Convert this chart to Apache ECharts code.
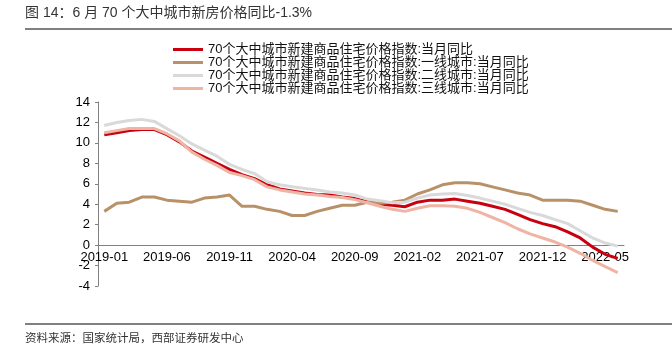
<!DOCTYPE html>
<html>
<head>
<meta charset="utf-8">
<script src="https://cdn.jsdelivr.net/npm/echarts@6/dist/echarts.min.js"></script>
<style>
  html, body { margin: 0; padding: 0; background: #fff; }
  #main { width: 672px; height: 352px; }
</style>
</head>
<body>
<div id="main"></div>
<script>
// 月份 2019-01 ~ 2022-06
var months = [];
for (var y = 2019; y <= 2022; y++) {
    for (var m = 1; m <= 12; m++) {
        if (y == 2022 && m > 6) break;
        months.push(y + '-' + (m < 10 ? '0' + m : m));
    }
}

var seriesNames = [
    '70个大中城市新建商品住宅价格指数:当月同比',
    '70个大中城市新建商品住宅价格指数:一线城市:当月同比',
    '70个大中城市新建商品住宅价格指数:二线城市:当月同比',
    '70个大中城市新建商品住宅价格指数:三线城市:当月同比'
];

var allCity = [10.8, 11.0, 11.2, 11.3, 11.3, 10.8, 10.1, 9.2, 8.6, 8.0, 7.4, 6.9,
               6.5, 5.9, 5.5, 5.3, 5.1, 4.95, 4.9, 4.7, 4.55, 4.25, 4.0, 3.9,
               3.75, 4.2, 4.4, 4.4, 4.5, 4.3, 4.1, 3.8, 3.5, 3.0, 2.5, 2.1,
               1.8, 1.3, 0.7, -0.2, -0.9, -1.3];
var tier1 = [3.3, 4.1, 4.2, 4.7, 4.7, 4.4, 4.3, 4.2, 4.6, 4.7, 4.9, 3.8,
             3.8, 3.5, 3.3, 2.9, 2.9, 3.3, 3.6, 3.9, 3.9, 4.2, 4.1, 4.2,
             4.4, 5.0, 5.4, 5.9, 6.1, 6.1, 6.0, 5.7, 5.4, 5.1, 4.9, 4.4,
             4.4, 4.4, 4.3, 3.9, 3.5, 3.3];
var tier2 = [11.7, 12.0, 12.2, 12.3, 12.1, 11.4, 10.7, 9.9, 9.3, 8.7, 7.9, 7.4,
             7.0, 6.2, 5.9, 5.7, 5.55, 5.4, 5.2, 5.1, 4.9, 4.5, 4.35, 4.15,
             4.2, 4.6, 4.9, 5.0, 5.05, 4.85, 4.6, 4.3, 4.0, 3.6, 3.2, 2.9,
             2.5, 2.1, 1.4, 0.7, 0.2, -0.1];
var tier3 = [11.0, 11.2, 11.4, 11.4, 11.4, 10.9, 10.2, 9.1, 8.4, 7.8, 7.1, 6.8,
             6.4, 5.7, 5.4, 5.2, 5.0, 4.9, 4.75, 4.65, 4.45, 4.15, 3.8, 3.5,
             3.3, 3.6, 3.85, 3.85, 3.8, 3.6, 3.2, 2.7, 2.2, 1.6, 1.1, 0.7,
             0.3, -0.2, -0.8, -1.5, -2.1, -2.7];

var colors = ['#C8000F', '#B99169', '#D9D9D9', '#F0B4A4'];
var seriesData = [allCity, tier1, tier2, tier3];

var chart = echarts.init(document.getElementById('main'));

var series = [];
for (var i = 0; i < seriesNames.length; i++) {
    series.push({
        name: seriesNames[i],
        type: 'line',
        data: seriesData[i],
        symbol: 'none',
        color: colors[i],
        lineStyle: { width: 3, color: colors[i] }
    });
}

var option = {
    animation: false,
    backgroundColor: '#fff',
    textStyle: { fontFamily: 'Liberation Sans, Noto Sans CJK SC, sans-serif' },
    graphic: [
        {
            type: 'text', left: 25, top: 6,
            style: { text: '图 14：6 月 70 个大中城市新房价格同比-1.3%', fontSize: 14, fill: '#333',
                     fontFamily: 'Liberation Sans, Noto Sans CJK SC, sans-serif' }
        },
        {
            type: 'line', shape: { x1: 25, y1: 29, x2: 672, y2: 29 },
            style: { stroke: '#808080', lineWidth: 2 }
        },
        {
            type: 'line', shape: { x1: 25, y1: 324, x2: 672, y2: 324 },
            style: { stroke: '#808080', lineWidth: 2 }
        },
        {
            type: 'text', left: 25, top: 332,
            style: { text: '资料来源：国家统计局，西部证券研发中心', fontSize: 11.5, fill: '#333',
                     fontFamily: 'Noto Sans CJK SC, sans-serif' }
        }
    ],
    legend: {
        orient: 'vertical',
        left: 173,
        top: 43,
        itemWidth: 30,
        itemHeight: 3,
        itemGap: 0,
        icon: 'rect',
        padding: 0,
        textStyle: { fontSize: 13, lineHeight: 11.7, color: '#111',
                     fontFamily: 'Liberation Sans, Noto Sans CJK SC, sans-serif' },
        data: seriesNames
    },
    grid: { left: 98, right: 48, top: 102, bottom: 66 },
    xAxis: {
        type: 'category',
        boundaryGap: true,
        data: months,
        // 轴线放在0处（网格底部对应 -4）
        offset: -41,
        axisLine: { onZero: false, lineStyle: { color: '#808080', width: 1 } },
        axisTick: { inside: true, length: 4, interval: 4, lineStyle: { color: '#808080' } },
        axisLabel: { interval: 4, color: '#000', fontSize: 13, margin: 6 }
    },
    yAxis: {
        type: 'value',
        min: -4,
        max: 14,
        interval: 2,
        splitLine: { show: false },
        axisLine: { show: true, lineStyle: { color: '#808080', width: 1 } },
        axisTick: { show: true, length: 3, lineStyle: { color: '#808080' } },
        axisLabel: { color: '#000', fontSize: 13, margin: 8 }
    },
    series: series
};
chart.setOption(option);
</script>
</body>
</html>
